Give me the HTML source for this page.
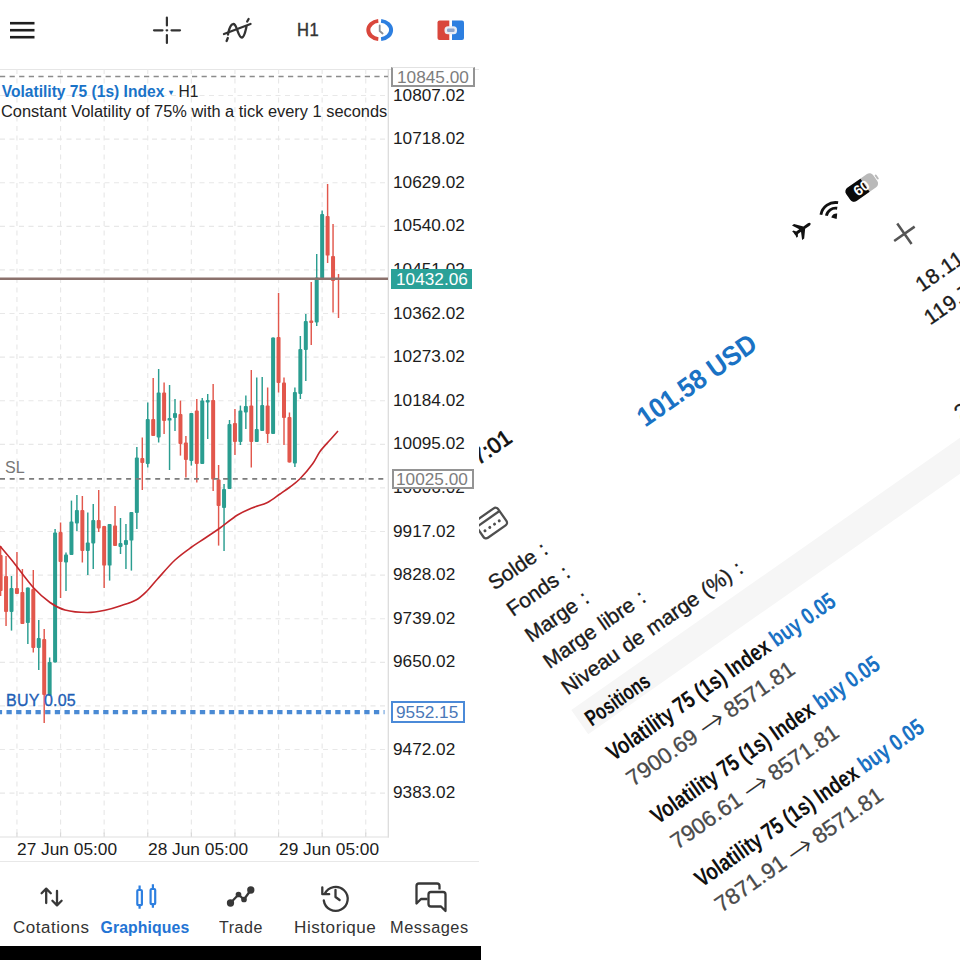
<!DOCTYPE html>
<html lang="fr">
<head>
<meta charset="utf-8">
<title>Volatility 75 (1s) Index</title>
<style>
*{margin:0;padding:0;box-sizing:border-box}
html,body{width:960px;height:960px;overflow:hidden;background:#fff}
body{font-family:"Liberation Sans",sans-serif;color:#222;position:relative}
.abs{position:absolute}
#left{position:absolute;left:0;top:0;width:480px;height:960px;background:#fff;overflow:hidden}
#right{position:absolute;left:478.5px;top:0;width:481.5px;height:960px;background:#fff;overflow:hidden}
.gr{stroke:#e8e8e8;stroke-width:1.15;stroke-dasharray:5 4.5}
.pl{position:absolute;left:393.3px;font-size:15.8px;line-height:18px;height:18px;color:#1c1c1c;white-space:nowrap;transform:scaleX(1.09);transform-origin:0 0}
.tl{position:absolute;top:840.5px;font-size:15.8px;line-height:18px;color:#1c1c1c;white-space:nowrap;transform:scaleX(1.096);transform-origin:0 0}
.box{position:absolute;left:391.5px;width:82.5px;height:20px;white-space:nowrap;background:#fff}
.box span{position:absolute;left:4px;top:0;font-size:15.8px;line-height:18px;transform:scaleX(1.09);transform-origin:0 0}
.nav{position:absolute;top:917.6px;font-size:15.8px;line-height:20px;color:#333;white-space:nowrap;letter-spacing:0.5px;transform-origin:0 0}
.t{position:absolute;white-space:nowrap;transform-origin:0 0}
</style>
</head>
<body>
<div id="left">
<!-- toolbar -->
<svg class="abs" style="left:0;top:0" width="482" height="66" viewBox="0 0 482 66">
 <g stroke="#1e1e1e" stroke-width="2.6" stroke-linecap="butt">
  <line x1="10" y1="23.2" x2="34.5" y2="23.2"/><line x1="10" y1="30.2" x2="34.5" y2="30.2"/><line x1="10" y1="37.2" x2="34.5" y2="37.2"/>
 </g>
 <g stroke="#333" stroke-width="2.2" stroke-linecap="round">
  <line x1="154" y1="30.3" x2="162.5" y2="30.3"/><line x1="171.5" y1="30.3" x2="180" y2="30.3"/>
  <line x1="166.9" y1="17.5" x2="166.9" y2="25.5"/><line x1="166.9" y1="35" x2="166.9" y2="43"/>
  <line x1="166.6" y1="30.3" x2="167.2" y2="30.3"/>
 </g>
 <g stroke="#333" stroke-width="2.3" fill="none" stroke-linecap="round">
  <path d="M224,34 L250.5,24"/>
  <path d="M228,34.5 C229.5,26 232.5,22 235,25 C237.5,28 238.5,38 242,37.5 C244.5,37 245.5,31 246.5,26.5"/>
  <path d="M227.8,38 L226.6,41"/><path d="M247.2,21.5 L248.6,19"/>
 </g>
 <!-- clock -->
 <g fill="none" stroke-width="4">
  <path d="M378.3,20.87 A11.4,9.2 0 0 0 378.3,39.13" stroke="#d9463c"/>
  <path d="M381.1,20.87 A11.4,9.2 0 0 1 381.1,39.13" stroke="#2d7fe0"/>
 </g>
 <path d="M379.7,25.5 L379.7,31 L382.6,33.500" fill="none" stroke="#8a8f96" stroke-width="1.8" stroke-linecap="round"/>
 <!-- red/blue box -->
 <path d="M439.5,20.5 h9.8 v19.5 h-9.8 a2,2 0 0 1 -2,-2 v-15.5 a2,2 0 0 1 2,-2z" fill="#d9463c"/>
 <path d="M452,20.5 h10 a2,2 0 0 1 2,2 v15.5 a2,2 0 0 1 -2,2 h-10z" fill="#2d7fe0"/>
 <rect x="444.5" y="26.2" width="12.5" height="8" rx="3.5" fill="#e9eef6"/>
 <rect x="447" y="28.6" width="7.6" height="3.4" rx="1.2" fill="#8fa6cc"/>
</svg>
<div class="abs" style="left:297px;top:20px;font-size:18px;line-height:20px;color:#333;letter-spacing:0.6px;transform:scaleX(0.92);transform-origin:0 0;-webkit-text-stroke:0.4px #333">H1</div>
<div class="abs" style="left:0;top:68.5px;width:482px;height:1px;background:#e6e6e6"></div>
<!-- chart -->
<svg class="abs" style="left:0;top:0" width="482" height="860" viewBox="0 0 482 860">
<line x1="16.95" y1="69" x2="16.95" y2="836" class="gr"/>
<line x1="60.55" y1="69" x2="60.55" y2="836" class="gr"/>
<line x1="104.15" y1="69" x2="104.15" y2="836" class="gr"/>
<line x1="147.75" y1="69" x2="147.75" y2="836" class="gr"/>
<line x1="191.35" y1="69" x2="191.35" y2="836" class="gr"/>
<line x1="234.95" y1="69" x2="234.95" y2="836" class="gr"/>
<line x1="278.55" y1="69" x2="278.55" y2="836" class="gr"/>
<line x1="322.15" y1="69" x2="322.15" y2="836" class="gr"/>
<line x1="365.75" y1="69" x2="365.75" y2="836" class="gr"/>
<line x1="16.95" y1="832.5" x2="16.95" y2="837" stroke="#d9d9d9" stroke-width="1.2"/>
<line x1="60.55" y1="832.5" x2="60.55" y2="837" stroke="#d9d9d9" stroke-width="1.2"/>
<line x1="104.15" y1="832.5" x2="104.15" y2="837" stroke="#d9d9d9" stroke-width="1.2"/>
<line x1="147.75" y1="832.5" x2="147.75" y2="837" stroke="#d9d9d9" stroke-width="1.2"/>
<line x1="191.35" y1="832.5" x2="191.35" y2="837" stroke="#d9d9d9" stroke-width="1.2"/>
<line x1="234.95" y1="832.5" x2="234.95" y2="837" stroke="#d9d9d9" stroke-width="1.2"/>
<line x1="278.55" y1="832.5" x2="278.55" y2="837" stroke="#d9d9d9" stroke-width="1.2"/>
<line x1="322.15" y1="832.5" x2="322.15" y2="837" stroke="#d9d9d9" stroke-width="1.2"/>
<line x1="365.75" y1="832.5" x2="365.75" y2="837" stroke="#d9d9d9" stroke-width="1.2"/>
<line x1="0" y1="95.50" x2="388" y2="95.50" class="gr"/>
<line x1="0" y1="139.10" x2="388" y2="139.10" class="gr"/>
<line x1="0" y1="182.70" x2="388" y2="182.70" class="gr"/>
<line x1="0" y1="226.30" x2="388" y2="226.30" class="gr"/>
<line x1="0" y1="269.90" x2="388" y2="269.90" class="gr"/>
<line x1="0" y1="313.50" x2="388" y2="313.50" class="gr"/>
<line x1="0" y1="357.10" x2="388" y2="357.10" class="gr"/>
<line x1="0" y1="400.70" x2="388" y2="400.70" class="gr"/>
<line x1="0" y1="444.30" x2="388" y2="444.30" class="gr"/>
<line x1="0" y1="487.90" x2="388" y2="487.90" class="gr"/>
<line x1="0" y1="531.50" x2="388" y2="531.50" class="gr"/>
<line x1="0" y1="575.10" x2="388" y2="575.10" class="gr"/>
<line x1="0" y1="618.70" x2="388" y2="618.70" class="gr"/>
<line x1="0" y1="662.30" x2="388" y2="662.30" class="gr"/>
<line x1="0" y1="705.90" x2="388" y2="705.90" class="gr"/>
<line x1="0" y1="749.50" x2="388" y2="749.50" class="gr"/>
<line x1="0" y1="793.10" x2="388" y2="793.10" class="gr"/>
<line x1="0.60" y1="546.0" x2="0.60" y2="596.0" stroke="#e2574c" stroke-width="1.45"/>
<rect x="-1.40" y="555.0" width="4.0" height="36.0" fill="#e2574c" rx="0.9"/>
<line x1="6.05" y1="556.0" x2="6.05" y2="626.0" stroke="#e2574c" stroke-width="1.45"/>
<rect x="4.05" y="576.0" width="4.0" height="36.0" fill="#e2574c" rx="0.9"/>
<line x1="11.50" y1="576.0" x2="11.50" y2="630.6" stroke="#2a9d90" stroke-width="1.45"/>
<rect x="9.50" y="588.0" width="4.0" height="24.0" fill="#2a9d90" rx="0.9"/>
<line x1="16.95" y1="552.0" x2="16.95" y2="594.0" stroke="#e2574c" stroke-width="1.45"/>
<rect x="14.95" y="588.0" width="4.0" height="6.0" fill="#e2574c" rx="0.9"/>
<line x1="22.40" y1="569.0" x2="22.40" y2="624.0" stroke="#e2574c" stroke-width="1.45"/>
<rect x="20.40" y="592.0" width="4.0" height="32.0" fill="#e2574c" rx="0.9"/>
<line x1="27.85" y1="587.5" x2="27.85" y2="644.0" stroke="#2a9d90" stroke-width="1.45"/>
<rect x="25.85" y="587.5" width="4.0" height="35.5" fill="#2a9d90" rx="0.9"/>
<line x1="33.30" y1="570.0" x2="33.30" y2="652.5" stroke="#e2574c" stroke-width="1.45"/>
<rect x="31.30" y="589.0" width="4.0" height="59.0" fill="#e2574c" rx="0.9"/>
<line x1="38.75" y1="620.0" x2="38.75" y2="670.0" stroke="#2a9d90" stroke-width="1.45"/>
<rect x="36.75" y="638.0" width="4.0" height="10.0" fill="#2a9d90" rx="0.9"/>
<line x1="44.20" y1="629.0" x2="44.20" y2="723.0" stroke="#e2574c" stroke-width="1.45"/>
<rect x="42.20" y="639.0" width="4.0" height="56.0" fill="#e2574c" rx="0.9"/>
<line x1="49.65" y1="657.5" x2="49.65" y2="695.6" stroke="#2a9d90" stroke-width="1.45"/>
<rect x="47.65" y="662.0" width="4.0" height="33.6" fill="#2a9d90" rx="0.9"/>
<line x1="55.10" y1="529.0" x2="55.10" y2="662.5" stroke="#2a9d90" stroke-width="1.45"/>
<rect x="53.10" y="532.5" width="4.0" height="130.0" fill="#2a9d90" rx="0.9"/>
<line x1="60.55" y1="522.5" x2="60.55" y2="598.0" stroke="#e2574c" stroke-width="1.45"/>
<rect x="58.55" y="532.0" width="4.0" height="30.0" fill="#e2574c" rx="0.9"/>
<line x1="66.00" y1="552.5" x2="66.00" y2="591.0" stroke="#2a9d90" stroke-width="1.45"/>
<rect x="64.00" y="554.5" width="4.0" height="8.0" fill="#2a9d90" rx="0.9"/>
<line x1="71.45" y1="500.6" x2="71.45" y2="555.0" stroke="#2a9d90" stroke-width="1.45"/>
<rect x="69.45" y="521.5" width="4.0" height="33.5" fill="#2a9d90" rx="0.9"/>
<line x1="76.90" y1="495.0" x2="76.90" y2="531.0" stroke="#2a9d90" stroke-width="1.45"/>
<rect x="74.90" y="510.0" width="4.0" height="13.5" fill="#2a9d90" rx="0.9"/>
<line x1="82.35" y1="496.0" x2="82.35" y2="562.5" stroke="#e2574c" stroke-width="1.45"/>
<rect x="80.35" y="510.0" width="4.0" height="41.0" fill="#e2574c" rx="0.9"/>
<line x1="87.80" y1="512.5" x2="87.80" y2="575.0" stroke="#2a9d90" stroke-width="1.45"/>
<rect x="85.80" y="542.5" width="4.0" height="8.5" fill="#2a9d90" rx="0.9"/>
<line x1="93.25" y1="504.0" x2="93.25" y2="569.0" stroke="#2a9d90" stroke-width="1.45"/>
<rect x="91.25" y="520.0" width="4.0" height="23.5" fill="#2a9d90" rx="0.9"/>
<line x1="98.70" y1="490.0" x2="98.70" y2="532.0" stroke="#e2574c" stroke-width="1.45"/>
<rect x="96.70" y="520.0" width="4.0" height="8.5" fill="#e2574c" rx="0.9"/>
<line x1="104.15" y1="526.0" x2="104.15" y2="588.0" stroke="#e2574c" stroke-width="1.45"/>
<rect x="102.15" y="526.0" width="4.0" height="39.6" fill="#e2574c" rx="0.9"/>
<line x1="109.60" y1="524.0" x2="109.60" y2="580.6" stroke="#2a9d90" stroke-width="1.45"/>
<rect x="107.60" y="524.0" width="4.0" height="41.6" fill="#2a9d90" rx="0.9"/>
<line x1="115.05" y1="506.0" x2="115.05" y2="546.0" stroke="#e2574c" stroke-width="1.45"/>
<rect x="113.05" y="525.5" width="4.0" height="20.5" fill="#e2574c" rx="0.9"/>
<line x1="120.50" y1="518.0" x2="120.50" y2="554.0" stroke="#2a9d90" stroke-width="1.45"/>
<rect x="118.50" y="543.0" width="4.0" height="4.0" fill="#2a9d90" rx="0.9"/>
<line x1="125.95" y1="524.0" x2="125.95" y2="569.0" stroke="#2a9d90" stroke-width="1.45"/>
<rect x="123.95" y="540.0" width="4.0" height="5.0" fill="#2a9d90" rx="0.9"/>
<line x1="131.40" y1="512.0" x2="131.40" y2="570.6" stroke="#2a9d90" stroke-width="1.45"/>
<rect x="129.40" y="512.0" width="4.0" height="28.6" fill="#2a9d90" rx="0.9"/>
<line x1="136.85" y1="447.0" x2="136.85" y2="529.0" stroke="#2a9d90" stroke-width="1.45"/>
<rect x="134.85" y="457.5" width="4.0" height="55.5" fill="#2a9d90" rx="0.9"/>
<line x1="142.30" y1="437.5" x2="142.30" y2="490.0" stroke="#e2574c" stroke-width="1.45"/>
<rect x="140.30" y="458.0" width="4.0" height="5.0" fill="#e2574c" rx="0.9"/>
<line x1="147.75" y1="402.5" x2="147.75" y2="467.5" stroke="#2a9d90" stroke-width="1.45"/>
<rect x="145.75" y="419.0" width="4.0" height="45.0" fill="#2a9d90" rx="0.9"/>
<line x1="153.20" y1="378.0" x2="153.20" y2="436.0" stroke="#e2574c" stroke-width="1.45"/>
<rect x="151.20" y="419.0" width="4.0" height="17.0" fill="#e2574c" rx="0.9"/>
<line x1="158.65" y1="369.0" x2="158.65" y2="442.5" stroke="#2a9d90" stroke-width="1.45"/>
<rect x="156.65" y="392.5" width="4.0" height="45.0" fill="#2a9d90" rx="0.9"/>
<line x1="164.10" y1="382.5" x2="164.10" y2="434.0" stroke="#e2574c" stroke-width="1.45"/>
<rect x="162.10" y="392.5" width="4.0" height="28.5" fill="#e2574c" rx="0.9"/>
<line x1="169.55" y1="385.0" x2="169.55" y2="470.0" stroke="#2a9d90" stroke-width="1.45"/>
<rect x="167.55" y="418.0" width="4.0" height="2.6" fill="#2a9d90" rx="0.9"/>
<line x1="175.00" y1="399.0" x2="175.00" y2="431.0" stroke="#2a9d90" stroke-width="1.45"/>
<rect x="173.00" y="413.0" width="4.0" height="5.0" fill="#2a9d90" rx="0.9"/>
<line x1="180.45" y1="400.6" x2="180.45" y2="455.6" stroke="#e2574c" stroke-width="1.45"/>
<rect x="178.45" y="414.0" width="4.0" height="30.0" fill="#e2574c" rx="0.9"/>
<line x1="185.90" y1="436.0" x2="185.90" y2="477.5" stroke="#e2574c" stroke-width="1.45"/>
<rect x="183.90" y="442.5" width="4.0" height="17.5" fill="#e2574c" rx="0.9"/>
<line x1="191.35" y1="413.0" x2="191.35" y2="465.6" stroke="#2a9d90" stroke-width="1.45"/>
<rect x="189.35" y="413.0" width="4.0" height="48.0" fill="#2a9d90" rx="0.9"/>
<line x1="196.80" y1="399.0" x2="196.80" y2="482.5" stroke="#e2574c" stroke-width="1.45"/>
<rect x="194.80" y="410.6" width="4.0" height="53.4" fill="#e2574c" rx="0.9"/>
<line x1="202.25" y1="398.0" x2="202.25" y2="464.0" stroke="#2a9d90" stroke-width="1.45"/>
<rect x="200.25" y="400.6" width="4.0" height="63.4" fill="#2a9d90" rx="0.9"/>
<line x1="207.70" y1="394.0" x2="207.70" y2="439.0" stroke="#2a9d90" stroke-width="1.45"/>
<rect x="205.70" y="400.0" width="4.0" height="2.5" fill="#2a9d90" rx="0.9"/>
<line x1="213.15" y1="384.0" x2="213.15" y2="491.0" stroke="#e2574c" stroke-width="1.45"/>
<rect x="211.15" y="400.0" width="4.0" height="79.5" fill="#e2574c" rx="0.9"/>
<line x1="218.60" y1="465.0" x2="218.60" y2="545.6" stroke="#e2574c" stroke-width="1.45"/>
<rect x="216.60" y="479.5" width="4.0" height="26.5" fill="#e2574c" rx="0.9"/>
<line x1="224.05" y1="484.0" x2="224.05" y2="551.0" stroke="#2a9d90" stroke-width="1.45"/>
<rect x="222.05" y="489.0" width="4.0" height="19.0" fill="#2a9d90" rx="0.9"/>
<line x1="229.50" y1="420.0" x2="229.50" y2="489.0" stroke="#2a9d90" stroke-width="1.45"/>
<rect x="227.50" y="424.0" width="4.0" height="65.0" fill="#2a9d90" rx="0.9"/>
<line x1="234.95" y1="409.0" x2="234.95" y2="455.0" stroke="#e2574c" stroke-width="1.45"/>
<rect x="232.95" y="423.0" width="4.0" height="19.0" fill="#e2574c" rx="0.9"/>
<line x1="240.40" y1="405.6" x2="240.40" y2="445.0" stroke="#2a9d90" stroke-width="1.45"/>
<rect x="238.40" y="410.6" width="4.0" height="31.4" fill="#2a9d90" rx="0.9"/>
<line x1="245.85" y1="395.6" x2="245.85" y2="429.0" stroke="#2a9d90" stroke-width="1.45"/>
<rect x="243.85" y="406.0" width="4.0" height="6.5" fill="#2a9d90" rx="0.9"/>
<line x1="251.30" y1="370.0" x2="251.30" y2="467.5" stroke="#e2574c" stroke-width="1.45"/>
<rect x="249.30" y="405.6" width="4.0" height="36.4" fill="#e2574c" rx="0.9"/>
<line x1="256.75" y1="377.5" x2="256.75" y2="442.0" stroke="#2a9d90" stroke-width="1.45"/>
<rect x="254.75" y="429.0" width="4.0" height="13.0" fill="#2a9d90" rx="0.9"/>
<line x1="262.20" y1="377.0" x2="262.20" y2="431.0" stroke="#2a9d90" stroke-width="1.45"/>
<rect x="260.20" y="405.0" width="4.0" height="26.0" fill="#2a9d90" rx="0.9"/>
<line x1="267.65" y1="387.5" x2="267.65" y2="443.0" stroke="#e2574c" stroke-width="1.45"/>
<rect x="265.65" y="405.6" width="4.0" height="28.4" fill="#e2574c" rx="0.9"/>
<line x1="273.10" y1="337.5" x2="273.10" y2="434.0" stroke="#2a9d90" stroke-width="1.45"/>
<rect x="271.10" y="337.5" width="4.0" height="96.5" fill="#2a9d90" rx="0.9"/>
<line x1="278.55" y1="293.0" x2="278.55" y2="392.5" stroke="#e2574c" stroke-width="1.45"/>
<rect x="276.55" y="337.0" width="4.0" height="46.0" fill="#e2574c" rx="0.9"/>
<line x1="284.00" y1="377.5" x2="284.00" y2="445.0" stroke="#e2574c" stroke-width="1.45"/>
<rect x="282.00" y="382.5" width="4.0" height="35.5" fill="#e2574c" rx="0.9"/>
<line x1="289.45" y1="412.5" x2="289.45" y2="462.5" stroke="#e2574c" stroke-width="1.45"/>
<rect x="287.45" y="417.0" width="4.0" height="45.5" fill="#e2574c" rx="0.9"/>
<line x1="294.90" y1="387.5" x2="294.90" y2="467.0" stroke="#2a9d90" stroke-width="1.45"/>
<rect x="292.90" y="392.0" width="4.0" height="71.5" fill="#2a9d90" rx="0.9"/>
<line x1="300.35" y1="336.0" x2="300.35" y2="399.0" stroke="#2a9d90" stroke-width="1.45"/>
<rect x="298.35" y="349.0" width="4.0" height="45.0" fill="#2a9d90" rx="0.9"/>
<line x1="305.80" y1="314.0" x2="305.80" y2="381.0" stroke="#2a9d90" stroke-width="1.45"/>
<rect x="303.80" y="321.0" width="4.0" height="29.0" fill="#2a9d90" rx="0.9"/>
<line x1="311.25" y1="282.0" x2="311.25" y2="345.0" stroke="#e2574c" stroke-width="1.45"/>
<rect x="309.25" y="320.6" width="4.0" height="2.4" fill="#e2574c" rx="0.9"/>
<line x1="316.70" y1="254.0" x2="316.70" y2="326.0" stroke="#2a9d90" stroke-width="1.45"/>
<rect x="314.70" y="277.5" width="4.0" height="45.0" fill="#2a9d90" rx="0.9"/>
<line x1="322.15" y1="210.6" x2="322.15" y2="278.5" stroke="#2a9d90" stroke-width="1.45"/>
<rect x="320.15" y="214.0" width="4.0" height="64.5" fill="#2a9d90" rx="0.9"/>
<line x1="327.60" y1="184.0" x2="327.60" y2="263.0" stroke="#e2574c" stroke-width="1.45"/>
<rect x="325.60" y="216.0" width="4.0" height="39.6" fill="#e2574c" rx="0.9"/>
<line x1="333.05" y1="224.0" x2="333.05" y2="312.5" stroke="#e2574c" stroke-width="1.45"/>
<rect x="331.05" y="256.0" width="4.0" height="25.0" fill="#e2574c" rx="0.9"/>
<line x1="338.50" y1="274.0" x2="338.50" y2="318.0" stroke="#e2574c" stroke-width="1.45"/>
<rect x="336.50" y="278.0" width="4.0" height="2.0" fill="#e2574c" rx="0.9"/>
<path d="M0,546 C2.1,548.5 6.9,554.0 12.5,561 C18.1,568.0 27.5,581.1 33.75,588 C40.0,594.9 44.8,598.8 50,602.5 C55.2,606.2 58.8,608.3 65,610 C71.2,611.7 80.7,612.5 87.5,612.5 C94.3,612.5 100.6,611.1 106,610 C111.4,608.9 115.0,607.7 120,606 C125.0,604.3 131.5,602.5 136,600 C140.5,597.5 143.4,594.5 147,591 C150.6,587.5 152.8,584.2 157.5,579 C162.2,573.8 169.4,565.2 175,560 C180.6,554.8 185.8,551.2 191,547.5 C196.2,543.8 201.2,540.8 206,537.5 C210.8,534.2 214.8,531.8 220,528 C225.2,524.2 232.2,518.3 237.5,515 C242.8,511.7 247.0,510.1 252,508 C257.0,505.9 262.8,504.8 267.5,502.5 C272.2,500.2 276.2,496.6 280,494 C283.8,491.4 286.7,489.5 290,487 C293.3,484.5 296.2,482.6 300,478.75 C303.8,474.9 309.2,468.5 312.5,464 C315.8,459.5 317.1,455.5 320,451.5 C322.9,447.5 327.0,443.4 330,440 C333.0,436.6 336.7,432.5 338,431" fill="none" stroke="#c3262b" stroke-width="1.6"/>
 <line x1="388.3" y1="69" x2="388.3" y2="837.5" stroke="#dcdcdc" stroke-width="1.3"/>
 <line x1="0" y1="837" x2="388.9" y2="837" stroke="#e0e0e0" stroke-width="1.1"/>
 <!-- level lines -->
 <line x1="0" y1="76.5" x2="388" y2="76.5" stroke="#8c8c8c" stroke-width="1.4" stroke-dasharray="5.2 4.4"/>
 <line x1="0" y1="478.8" x2="388" y2="478.8" stroke="#7c7c7c" stroke-width="1.7" stroke-dasharray="5 4.7"/>
 <line x1="0" y1="278.8" x2="388" y2="278.8" stroke="#8b716c" stroke-width="2.6"/>
 <line x1="0" y1="712.2" x2="384.500" y2="712.2" stroke="#4a8ad4" stroke-width="4.3" stroke-dasharray="5.3 4.37" stroke-dashoffset="3.2"/>
</svg>
<div class="t" style="left:1.7px;top:82.5px;font-size:15.6px;line-height:18px;color:#1a73c8;font-weight:bold">Volatility 75 (1s) Index <span style="font-size:8px;position:relative;top:-2px;letter-spacing:0">&#9662;</span> <span style="color:#222;font-weight:normal;margin-left:1.5px">H1</span></div>
<div class="t" style="left:1px;top:102.5px;font-size:15.6px;line-height:18px;color:#222;transform:scaleX(1.051)">Constant Volatility of 75% with a tick every 1 seconds</div>
<div class="t" style="left:5px;top:458px;font-size:16px;line-height:20px;color:#777">SL</div>
<div class="t" style="left:6px;top:691px;font-size:16.8px;line-height:20px;color:#1f5fb6;letter-spacing:0.2px;transform:scaleX(0.955);-webkit-text-stroke:0.35px #1f5fb6">BUY 0.05</div>
<div class="pl" style="top:86.5px">10807.02</div>
<div class="pl" style="top:130.1px">10718.02</div>
<div class="pl" style="top:173.7px">10629.02</div>
<div class="pl" style="top:217.3px">10540.02</div>
<div class="pl" style="top:260.9px">10451.02</div>
<div class="pl" style="top:304.5px">10362.02</div>
<div class="pl" style="top:348.1px">10273.02</div>
<div class="pl" style="top:391.7px">10184.02</div>
<div class="pl" style="top:435.3px">10095.02</div>
<div class="pl" style="top:478.9px">10006.02</div>
<div class="pl" style="top:522.5px">9917.02</div>
<div class="pl" style="top:566.1px">9828.02</div>
<div class="pl" style="top:609.7px">9739.02</div>
<div class="pl" style="top:653.3px">9650.02</div>
<div class="pl" style="top:699.4px">9561.02</div>
<div class="pl" style="top:740.5px">9472.02</div>
<div class="pl" style="top:784.1px">9383.02</div>
<!-- boxed labels -->
<div class="box" style="top:67px;left:391.2px;width:83.8px;height:20.2px;border:2px solid #949494;border-top:1px solid #e2e2e2;color:#7d7d7d"><span style="top:1px;left:3.4px">10845.00</span></div>
<div class="box" style="top:269px;left:391px;width:81px;background:#2aa198;color:#fff;height:19.8px"><span style="left:4.5px;top:1.5px">10432.06</span></div>
<div class="box" style="top:468.6px;left:391.8px;width:82px;height:20px;border:2px solid #949494;color:#7d7d7d"><span style="top:0.9px;left:2.6px">10025.00</span></div>
<div class="box" style="top:701px;left:391px;width:74px;height:22px;border:2px solid #4b8ad8;border-bottom-width:2.5px;color:#4a78b8"><span style="left:2.5px;top:0.5px">9552.15</span></div>
<!-- time labels -->
<div class="tl" style="left:17px">27 Jun 05:00</div>
<div class="tl" style="left:148px">28 Jun 05:00</div>
<div class="tl" style="left:279px">29 Jun 05:00</div>
<!-- bottom nav -->
<div class="abs" style="left:0;top:860.5px;width:482px;height:1px;background:#e8e8e8"></div>
<svg class="abs" style="left:0;top:870px" width="482" height="50" viewBox="0 870 482 50">
 <g fill="none" stroke="#383838" stroke-width="2.3" stroke-linecap="round" stroke-linejoin="round">
  <path d="M46.2,903 V888.8 M41.6,893.2 L46.2,888.6 L50.8,893.2"/>
  <path d="M57,891 V905.2 M52.4,900.800 L57,905.4 L61.6,900.800"/>
 </g>
 <g fill="none" stroke="#2d7fe0" stroke-width="2.2">
  <rect x="137.300" y="890" width="4.6" height="15.2" rx="1"/><path d="M139.6,885.5 V890 M139.6,905.2 V908.8"/>
  <rect x="150.600" y="889" width="4.6" height="15.2" rx="1"/><path d="M152.900,884.300 V889 M152.900,904.200 V907.800"/>
 </g>
 <g stroke="#383838" stroke-width="2.3" fill="#383838">
  <path d="M230.500,903 L238.500,894.500 L244,899.500 L250.800,890" fill="none"/>
  <circle cx="230.500" cy="903" r="2.5"/><circle cx="238.500" cy="894.500" r="1.7"/><circle cx="244" cy="899.500" r="1.7"/><circle cx="250.800" cy="890" r="2.5"/>
 </g>
 <g fill="none" stroke="#383838" stroke-width="2.3" stroke-linecap="round" stroke-linejoin="round">
  <path d="M324.800,893.800 A12,12 0 1 1 323.800,900.500"/>
  <path d="M322.300,887.300 V894.200 H329.200"/>
  <path d="M335.500,890 V897 L339.600,900"/>
 </g>
 <g fill="none" stroke="#383838" stroke-width="2.3" stroke-linejoin="round">
  <path d="M427.500,899 H421 L416.500,903.500 V886 a2.500,2.500 0 0 1 2.500,-2.500 H437 a2.500,2.500 0 0 1 2.500,2.500 V889.500"/>
  <path d="M431,892 H443 a2.500,2.500 0 0 1 2.500,2.500 V911 l-4.500,-4.500 H431 a2.500,2.500 0 0 1 -2.500,-2.500 V894.500 a2.500,2.500 0 0 1 2.500,-2.500z"/>
 </g>
</svg>
<div class="nav" id="n1" style="left:12.5px;transform:scaleX(1.075)">Cotations</div>
<div class="nav" id="n2" style="left:100.5px;color:#2374d4;font-weight:bold;letter-spacing:0.1px">Graphiques</div>
<div class="nav" id="n3" style="left:218.5px;transform:scaleX(1.015)">Trade</div>
<div class="nav" id="n4" style="left:294px;transform:scaleX(1.082)">Historique</div>
<div class="nav" id="n5" style="left:389.8px;transform:scaleX(1.035)">Messages</div>
</div>
<div id="right">
<svg class="abs" style="left:0;top:0" width="481.5" height="960" viewBox="478.5 0 481.5 960" font-family="'Liberation Sans',sans-serif">
<g transform="translate(570.8,710.0) rotate(-35.0)">
<rect x="0" y="0" width="700" height="29.5" fill="#f6f6f6"/>
<text x="5.5" y="-141.6" font-size="21" fill="#1b1b1b" word-spacing="1.4" stroke="#1b1b1b" stroke-width="0.35">Solde :</text>
<text x="5.5" y="-109.7" font-size="21" fill="#1b1b1b" word-spacing="1.4" stroke="#1b1b1b" stroke-width="0.35">Fonds :</text>
<text x="5.5" y="-77.8" font-size="21" fill="#1b1b1b" word-spacing="1.4" stroke="#1b1b1b" stroke-width="0.35">Marge :</text>
<text x="5.5" y="-45.9" font-size="21" fill="#1b1b1b" word-spacing="1.4" stroke="#1b1b1b" stroke-width="0.35">Marge libre :</text>
<text x="5.5" y="-14.0" font-size="21" fill="#1b1b1b" word-spacing="1.4" stroke="#1b1b1b" stroke-width="0.35">Niveau de marge (%) :</text>
<text x="526.5" y="-141" font-size="21" fill="#1b1b1b" letter-spacing="0.6" stroke="#1b1b1b" stroke-width="0.35">18.11</text>
<text x="514.5" y="-109.2" font-size="21" fill="#1b1b1b" letter-spacing="0.6" stroke="#1b1b1b" stroke-width="0.35">119.72</text>
<text x="484.8" y="-14" font-size="21" fill="#1b1b1b" letter-spacing="0.6" stroke="#1b1b1b" stroke-width="0.35">2245.17</text>
<text x="7" y="25.5" font-size="22.5" fill="#111" font-weight="bold" textLength="73.5" lengthAdjust="spacingAndGlyphs">Positions</text>
<text x="5" y="66.5" font-size="23.5" font-weight="bold" fill="#111" textLength="273.5" lengthAdjust="spacingAndGlyphs">Volatility 75 (1s) Index <tspan fill="#1a72c4">buy 0.05</tspan></text>
<text x="6.5" y="98.5" font-size="22.3" fill="#4a4a4a" textLength="81.5" lengthAdjust="spacingAndGlyphs" stroke="#4a4a4a" stroke-width="0.3">7900.69</text>
<text x="94" y="101.3" font-size="31.5" font-family="'DejaVu Sans',sans-serif" font-weight="200" fill="#333">→</text>
<text x="125.5" y="98.5" font-size="22.3" fill="#4a4a4a" textLength="80.5" lengthAdjust="spacingAndGlyphs" stroke="#4a4a4a" stroke-width="0.3">8571.81</text>
<text x="5" y="143.5" font-size="23.5" font-weight="bold" fill="#111" textLength="273.5" lengthAdjust="spacingAndGlyphs">Volatility 75 (1s) Index <tspan fill="#1a72c4">buy 0.05</tspan></text>
<text x="6.5" y="175.5" font-size="22.3" fill="#4a4a4a" textLength="81.5" lengthAdjust="spacingAndGlyphs" stroke="#4a4a4a" stroke-width="0.3">7906.61</text>
<text x="94" y="178.3" font-size="31.5" font-family="'DejaVu Sans',sans-serif" font-weight="200" fill="#333">→</text>
<text x="125.5" y="175.5" font-size="22.3" fill="#4a4a4a" textLength="80.5" lengthAdjust="spacingAndGlyphs" stroke="#4a4a4a" stroke-width="0.3">8571.81</text>
<text x="5" y="220.5" font-size="23.5" font-weight="bold" fill="#111" textLength="273.5" lengthAdjust="spacingAndGlyphs">Volatility 75 (1s) Index <tspan fill="#1a72c4">buy 0.05</tspan></text>
<text x="6.5" y="252.5" font-size="22.3" fill="#4a4a4a" textLength="81.5" lengthAdjust="spacingAndGlyphs" stroke="#4a4a4a" stroke-width="0.3">7871.91</text>
<text x="94" y="255.3" font-size="31.5" font-family="'DejaVu Sans',sans-serif" font-weight="200" fill="#333">→</text>
<text x="125.5" y="252.5" font-size="22.3" fill="#4a4a4a" textLength="80.5" lengthAdjust="spacingAndGlyphs" stroke="#4a4a4a" stroke-width="0.3">8571.81</text>
<text x="292" y="-188.8" font-size="27.5" fill="#1a72c4" font-weight="bold" textLength="139" lengthAdjust="spacingAndGlyphs" text-anchor="middle">101.58 USD</text>
<path d="M533.5,-199 H558.5 M546,-211.5 V-186.5" stroke="#555" stroke-width="2.5" fill="none"/>
<text x="52" y="-253.5" font-size="22" fill="#111" stroke="#111" stroke-width="0.7">17:01</text>
<g transform="translate(41.3,-199.3)" fill="none" stroke="#4f4f4f" stroke-width="2.3"><rect x="-14" y="-10.400" width="28" height="20.800" rx="3.200"/><path d="M-14,-4.900 H14"/><path d="M-9.200,3 h0.010 M-3.400,3 h0.010 M2.400,3 h0.010 M8.200,3 h0.010" stroke-width="3" stroke-linecap="round"/></g>
<g transform="translate(465,-261.5) scale(0.84)" fill="#111"><path d="M-11,1.8 L-11,-1.8 L-3,-1.8 L-7.5,-10.5 L-4.5,-10.5 L3,-1.8 L9,-1.8 C11,-1.8 12,-0.8 12,0 C12,0.8 11,1.8 9,1.8 L3,1.8 L-4.5,10.5 L-7.500,10.5 L-3,1.8 L-7.5,1.8 L-9.5,4.5 L-11.5,4.5 L-10.3,0 L-11.5,-4.5 L-9.5,-4.5 L-7.5,-1.8Z"/></g>
<g transform="translate(499,-255)" fill="none" stroke="#111" stroke-width="2.8" stroke-linecap="butt"><path d="M-10.5,-7.5 A14.8,14.8 0 0 1 10.5,-7.5"/><path d="M-6.6,-3.5 A9.3,9.3 0 0 1 6.600,-3.5"/></g>
<path d="M499,-251.2 L495.400,-255.400 A5.2,5.2 0 0 1 502.600,-255.400Z" transform="translate(0,1.2)" fill="#111"/>
<g transform="translate(538.6,-261.4)"><rect x="-17.500" y="-8" width="33" height="16" rx="4.5" fill="#b9b9b9"/><path d="M-13,-8 H3 V8 H-13 a4.5,4.5 0 0 1 -4.500,-4.500 V-3.500 a4.500,4.500 0 0 1 4.500,-4.500z" fill="#0a0a0a"/><rect x="16.300" y="-2.800" width="2" height="5.600" rx="1" fill="#b9b9b9"/><text x="-1.500" y="5.200" font-size="14.500" font-weight="bold" fill="#fff" text-anchor="middle">60</text></g>
</g>
</svg>
</div>
<div class="abs" style="z-index:5;left:0;top:946px;width:481px;height:14px;background:#000"></div>
</body>
</html>
